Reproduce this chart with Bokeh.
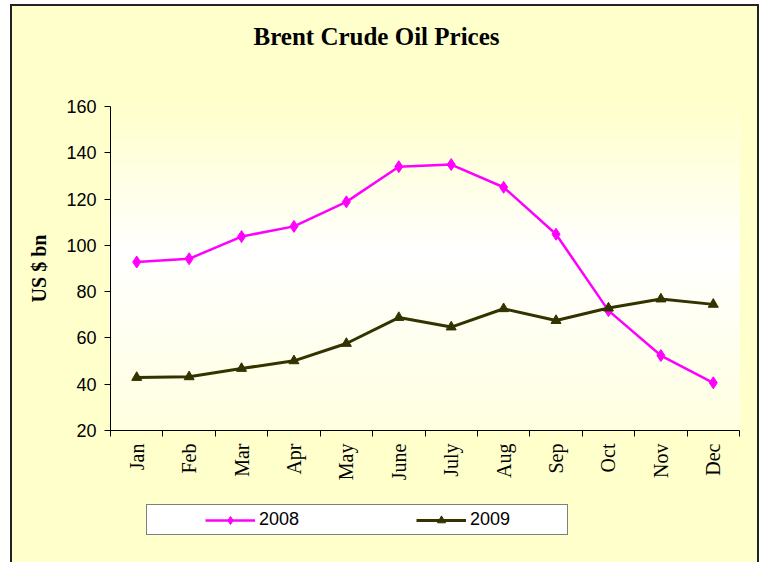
import numpy as np
from math import pi
from bokeh.plotting import figure
from bokeh.layouts import column
from bokeh.models import (FixedTicker, Legend, LegendItem, Range1d, CustomJSTickFormatter, Title)
from bokeh.embed import file_html
from bokeh.resources import INLINE

# ---- data ----
months = ["Jan", "Feb", "Mar", "Apr", "May", "June", "July", "Aug", "Sep", "Oct", "Nov", "Dec"]
prices_2008 = [92.8, 94.2, 103.8, 108.2, 118.8, 134.0, 134.9, 125.1, 104.8, 71.8, 52.4, 40.6]
prices_2009 = [42.9, 43.2, 46.8, 50.1, 57.6, 68.8, 64.7, 72.6, 67.5, 72.9, 76.8, 74.5]
y_ticks = [20, 40, 60, 80, 100, 120, 140, 160]
series_names = ["2008", "2009"]
series_colors = ["#FF00FF", "#333300"]

title_text = "Brent Crude Oil Prices"
y_label = "US $ bn"

xpos = [i + 0.5 for i in range(len(months))]
bounds = list(range(len(months) + 1))

BG = "#FFFFCC"
W, H1, H2 = 745, 489, 67

# ---------------- main chart ----------------
p = figure(width=W, height=H1, output_backend="svg", toolbar_location=None,
           x_range=Range1d(0, len(months)), y_range=Range1d(y_ticks[0], y_ticks[-1]),
           min_border_left=98, min_border_right=18, min_border_top=100, min_border_bottom=65)
p.border_fill_color = BG
p.outline_line_color = None
p.xgrid.visible = False
p.ygrid.visible = False

# gradient plot-area background (styling only)
N = 200
img = np.zeros((N, 2, 4), dtype=np.uint8)
for r in range(N):
    t = 1 - r / (N - 1)  # 0 at top, 1 at bottom
    if t < 0.45:
        a = 1 - t / 0.45
    else:
        a = 0.6 * (t - 0.45) / 0.55
    img[r, :, 0] = 255
    img[r, :, 1] = 255
    img[r, :, 2] = int(round(255 - 51 * a))
    img[r, :, 3] = 255
p.image_rgba(image=[img.view(dtype=np.uint32).reshape((N, 2))], x=0, y=y_ticks[0],
             dw=len(months), dh=y_ticks[-1] - y_ticks[0])

# series
p.line(xpos, prices_2008, line_color=series_colors[0], line_width=2.5)
p.scatter(xpos, prices_2008, marker="diamond", size=12, fill_color=series_colors[0], line_color=series_colors[0])
p.line(xpos, prices_2009, line_color=series_colors[1], line_width=3)
p.scatter(xpos, prices_2009, marker="triangle", size=10, fill_color=series_colors[1], line_color=series_colors[1])

# spacer between plot area and title (empty title panel), then the real title outermost
spacer = Title(text=" ", text_font_size="1px", standoff=49)
p.add_layout(spacer, "above")
p.title.text = title_text
p.title.align = "left"
p.title.offset = 143
p.title.standoff = 10
p.title.text_font = "Liberation Serif"
p.title.text_font_size = "25px"
p.title.text_font_style = "bold"
p.title.text_color = "black"

# x axis
xa = p.xaxis[0]
xa.ticker = FixedTicker(ticks=xpos, minor_ticks=bounds)
xa.formatter = CustomJSTickFormatter(args=dict(months=months), code="return months[Math.floor(tick)]")
xa.major_tick_line_color = None
xa.minor_tick_line_color = "black"
xa.minor_tick_out = 6
xa.minor_tick_in = 0
xa.axis_line_color = "black"
xa.major_label_orientation = pi / 2
xa.major_label_standoff = 7
xa.major_label_text_font = "Liberation Serif"
xa.major_label_text_font_size = "20px"
xa.major_label_text_color = "black"

# y axis
ya = p.yaxis[0]
ya.ticker = FixedTicker(ticks=y_ticks)
ya.major_tick_out = 6
ya.major_tick_in = 0
ya.minor_tick_line_color = None
ya.axis_line_color = "black"
ya.major_tick_line_color = "black"
ya.major_label_standoff = 8
ya.major_label_text_font = "Liberation Sans"
ya.major_label_text_font_size = "18px"
ya.major_label_text_color = "black"
ya.axis_label = y_label
ya.axis_label_text_font = "Liberation Serif"
ya.axis_label_text_font_style = "bold"
ya.axis_label_text_font_size = "20px"
ya.axis_label_text_color = "black"
ya.axis_label_standoff = 13

# ---------------- legend strip ----------------
q = figure(width=W, height=H2, output_backend="svg", toolbar_location=None,
           x_axis_location=None, y_axis_location=None,
           x_range=Range1d(0, len(months)), y_range=Range1d(y_ticks[0], y_ticks[-1]),
           min_border_left=0, min_border_right=0, min_border_top=0, min_border_bottom=0)
q.border_fill_color = BG
q.background_fill_color = BG
q.outline_line_color = None
q.xgrid.visible = False
q.ygrid.visible = False

# legend keys (same series, not drawn in this strip)
k1 = [q.line(xpos, prices_2008, line_color=series_colors[0], line_width=2.5, visible=False),
      q.scatter(xpos, prices_2008, marker="diamond", size=12, fill_color=series_colors[0],
                line_color=series_colors[0], visible=False)]
k2 = [q.line(xpos, prices_2009, line_color=series_colors[1], line_width=3, visible=False),
      q.scatter(xpos, prices_2009, marker="triangle", size=11, fill_color=series_colors[1],
                line_color=series_colors[1], visible=False)]

legend = Legend(items=[LegendItem(label=series_names[0], renderers=k1),
                       LegendItem(label=series_names[1], renderers=k2)],
                orientation="horizontal", location=(36, 27),
                title=" ", title_location="left", title_text_font_size="1px", title_standoff=53,
                glyph_width=50, glyph_height=20, label_height=20, label_standoff=4, label_width=93,
                spacing=64, padding=4, margin=0,
                border_line_color="black", border_line_width=1,
                background_fill_color="white", background_fill_alpha=1.0,
                inactive_fill_alpha=0.0,
                label_text_font="Liberation Sans", label_text_font_size="18px",
                label_text_color="black")
q.add_layout(legend)

layout = column(p, q, spacing=0,
                styles={"margin-left": "10px", "margin-top": "4px", "border": "2px solid #222222",
                        "background-color": BG})

open("out.html", "w").write(file_html(layout, INLINE))
